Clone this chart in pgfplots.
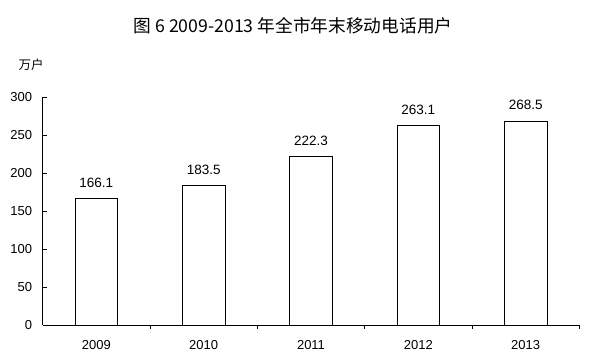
\documentclass[border=0pt]{standalone}
\usepackage{fontspec}
\setmainfont{Liberation Sans}
\newfontfamily\cjk{Noto Sans CJK SC}
\usepackage{pgfplots}
\pgfplotsset{compat=1.18}
\begin{document}
\begin{tikzpicture}[x=1pt,y=1pt]
\useasboundingbox (0,0) rectangle (596,363);
\begin{axis}[
  at={(42.7pt,38pt)}, anchor=south west,
  scale only axis, width=536.6pt, height=227.7pt,
  xmin=-0.5, xmax=4.5, ymin=0, ymax=300,
  axis x line*=bottom, axis y line*=left,
  axis line style={line width=0.9pt, -},
  ytick={0,50,...,300},
  xtick={0.5,1.5,2.5,3.5,4.5}, xticklabels={},
  extra x ticks={0,1,2,3,4},
  extra x tick labels={2009,2010,2011,2012,2013},
  extra x tick style={major tick length=0pt, tick style={draw=none}},
  tick align=inside, major tick length=4pt,
  tick style={black, line width=0.9pt},
  ticklabel style={font=\fontsize{13}{15}\selectfont},
  yticklabel style={xshift=-7pt},
  xticklabel style={yshift=-11.5pt},
  /pgf/number format/assume math mode=true,
  ybar, bar width=42.7pt,
  nodes near coords,
  nodes near coords style={font=\fontsize{13.5}{15}\selectfont, yshift=7.3pt},
  point meta=explicit symbolic,
  clip=false,
]
\addplot[draw=black, fill=white, line width=0.9pt] coordinates {
  (0,166.1) [166.1]
  (1,183.5) [183.5]
  (2,222.3) [222.3]
  (3,263.1) [263.1]
  (4,268.5) [268.5]
};
\end{axis}
\node[font=\cjk\fontsize{17.7}{20}\selectfont] at (293,337) {图 6 2009-2013 年全市年末移动电话用户};
\node[font=\cjk\fontsize{12.5}{14}\selectfont] at (31,298) {万户};
\end{tikzpicture}
\end{document}
